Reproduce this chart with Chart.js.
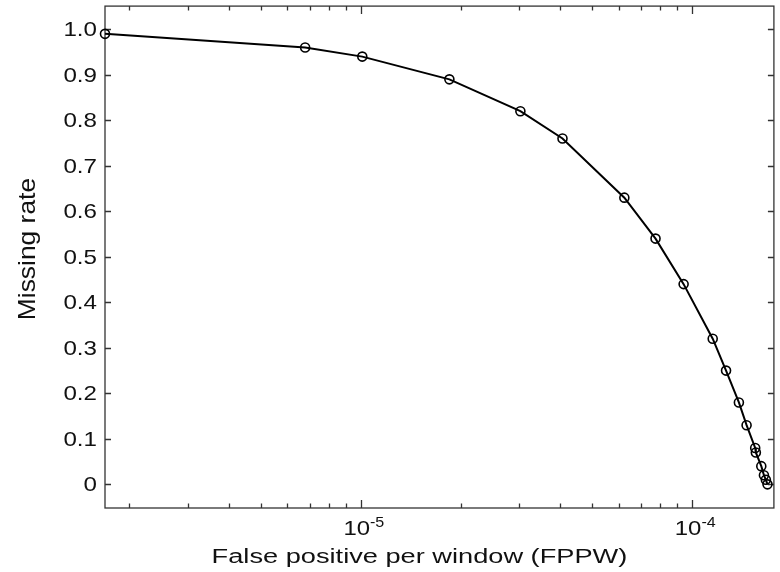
<!DOCTYPE html>
<html>
<head>
<meta charset="utf-8">
<script src="https://cdn.jsdelivr.net/npm/chart.js@4"></script>
<style>
  html, body { margin: 0; padding: 0; background: #fff; }
  canvas { display: block; }
</style>
</head>
<body>
<canvas id="chart" width="780" height="572"></canvas>
<script>
// values (log x axis)
const fppw = [1.69e-6, 6.79e-6, 1.01e-5, 1.85e-5, 3.03e-5, 4.06e-5, 6.24e-5, 7.75e-5, 9.42e-5,
  1.153e-4, 1.265e-4, 1.383e-4, 1.459e-4, 1.549e-4, 1.556e-4, 1.616e-4, 1.646e-4, 1.668e-4, 1.687e-4];
const missRate = [0.99, 0.96, 0.94, 0.89, 0.82, 0.76, 0.63, 0.54, 0.44,
  0.32, 0.25, 0.18, 0.13, 0.08, 0.07, 0.04, 0.02, 0.01, 0.0];

const xTicks = [2e-6, 3e-6, 4e-6, 5e-6, 6e-6, 7e-6, 8e-6, 9e-6, 1e-5,
  2e-5, 3e-5, 4e-5, 5e-5, 6e-5, 7e-5, 8e-5, 9e-5, 1e-4];
const yTicks = [0, 0.1, 0.2, 0.3, 0.4, 0.5, 0.6, 0.7, 0.8, 0.9, 1.0];
const yTickLabels = ["0", "0.1", "0.2", "0.3", "0.4", "0.5", "0.6", "0.7", "0.8", "0.9", "1.0"];

const FONT = '"Liberation Sans", Arial, sans-serif';

function isDecade(v) {
  const l = Math.log10(v);
  return Math.abs(l - Math.round(l)) < 1e-6;
}

// horizontally stretched text, the source picture is wider than tall
function wideText(ctx, text, x, y, sx, align) {
  ctx.save();
  ctx.translate(x, y);
  ctx.scale(sx, 1);
  ctx.textAlign = align;
  ctx.fillText(text, 0, 0);
  ctx.restore();
}

// matlab-like box with inward ticks on all four sides
const framePlugin = {
  id: "frame",
  beforeDatasetsDraw(chart) {
    const { ctx, chartArea: a, scales } = chart;
    const x = scales.x, y = scales.y;
    ctx.save();
    ctx.strokeStyle = "#333";
    ctx.lineWidth = 1.3;
    ctx.strokeRect(a.left, a.top, a.right - a.left, a.bottom - a.top);

    ctx.beginPath();
    x.ticks.forEach(t => {
      const px = Math.round(x.getPixelForValue(t.value)) + 0.5;
      const len = isDecade(t.value) ? 8 : 4.5;
      ctx.moveTo(px, a.bottom); ctx.lineTo(px, a.bottom - len);
      ctx.moveTo(px, a.top); ctx.lineTo(px, a.top + len);
    });
    y.ticks.forEach(t => {
      const py = Math.round(y.getPixelForValue(t.value)) + 0.5;
      ctx.moveTo(a.left, py); ctx.lineTo(a.left + 6, py);
      ctx.moveTo(a.right, py); ctx.lineTo(a.right - 6, py);
    });
    ctx.stroke();

    ctx.fillStyle = "#111";

    // y tick labels
    ctx.font = "21px " + FONT;
    ctx.textBaseline = "middle";
    y.ticks.forEach((t, i) => {
      wideText(ctx, yTickLabels[i], a.left - 8, y.getPixelForValue(t.value) + 1, 1.15, "right");
    });

    // x tick labels, only decades: 10 with superscript exponent
    ctx.textBaseline = "alphabetic";
    x.ticks.forEach(t => {
      if (!isDecade(t.value)) return;
      const exp = String(Math.round(Math.log10(t.value)));
      const px = x.getPixelForValue(t.value);
      ctx.font = "21px " + FONT;
      const w1 = ctx.measureText("10").width * 1.14;
      ctx.font = "14px " + FONT;
      const w2 = ctx.measureText(exp).width * 1.15;
      const start = px - (w1 + w2) / 2 + 3;
      ctx.font = "21px " + FONT;
      wideText(ctx, "10", start, a.bottom + 27, 1.14, "left");
      ctx.font = "14px " + FONT;
      wideText(ctx, exp, start + w1, a.bottom + 19, 1.15, "left");
    });

    // axis titles
    ctx.font = "20px " + FONT;
    wideText(ctx, "False positive per window (FPPW)", (a.left + a.right) / 2 - 20, a.bottom + 55, 1.36, "center");

    ctx.save();
    ctx.translate(35, (a.top + a.bottom) / 2 - 8);
    ctx.rotate(-Math.PI / 2);
    ctx.scale(1.1, 1);
    ctx.font = "24px " + FONT;
    ctx.textAlign = "center";
    ctx.fillText("Missing rate", 0, 0);
    ctx.restore();

    ctx.restore();
  }
};

new Chart(document.getElementById("chart"), {
  type: "line",
  data: {
    datasets: [
      {
        data: fppw.map((v, i) => ({ x: v, y: missRate[i] })),
        borderColor: "#000",
        borderWidth: 2,
        pointRadius: 4.5,
        pointBorderWidth: 1.6,
        pointBorderColor: "#000",
        pointBackgroundColor: "rgba(0,0,0,0)",
        tension: 0,
        clip: false
      }
    ]
  },
  options: {
    responsive: false,
    animation: false,
    devicePixelRatio: 1,
    layout: { padding: { top: 5, right: 1, left: 0, bottom: 0 } },
    plugins: {
      legend: { display: false },
      tooltip: { enabled: false }
    },
    scales: {
      x: {
        type: "logarithmic",
        min: 1.69e-6,
        max: 1.764e-4,
        grid: { display: false },
        border: { display: false },
        ticks: { display: false },
        afterBuildTicks: axis => { axis.ticks = xTicks.map(v => ({ value: v })); },
        afterFit: axis => { axis.height = 64; }
      },
      y: {
        type: "linear",
        min: -0.052,
        max: 1.051,
        grid: { display: false },
        border: { display: false },
        ticks: { display: false },
        afterBuildTicks: axis => { axis.ticks = yTicks.map(v => ({ value: v })); },
        afterFit: axis => { axis.width = 105; }
      }
    }
  },
  plugins: [framePlugin]
});
</script>
</body>
</html>
